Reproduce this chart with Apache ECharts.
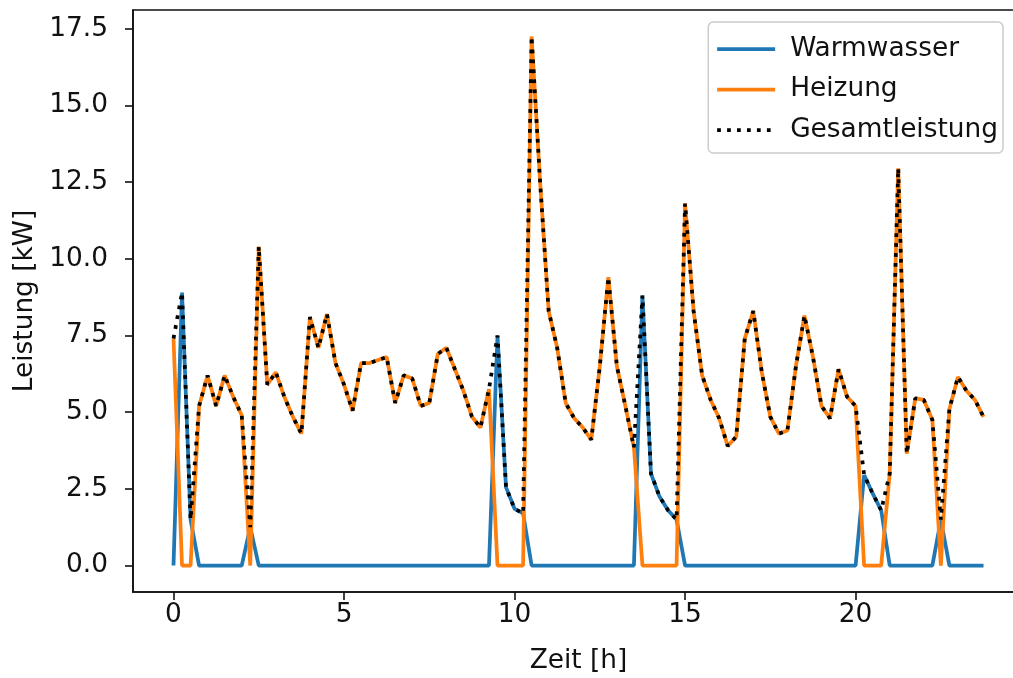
<!DOCTYPE html>
<html>
<head>
<meta charset="utf-8">
<script src="https://cdn.jsdelivr.net/npm/echarts@6/dist/echarts.min.js"></script>
<style>
html,body{margin:0;padding:0;background:#fff;}
#chart{width:1013px;height:678px;}
</style>
</head>
<body>
<div id="chart"></div>
<script>
// Zeitachse [h]
const hours = [
  0, 0.25, 0.5, 0.75, 1, 1.25, 1.5, 1.75, 2, 2.25, 2.5, 2.75,
  3, 3.25, 3.5, 3.75, 4, 4.25, 4.5, 4.75, 5, 5.25, 5.5, 5.75,
  6, 6.25, 6.5, 6.75, 7, 7.25, 7.5, 7.75, 8, 8.25, 8.5, 8.75,
  9, 9.25, 9.5, 9.75, 10, 10.25, 10.5, 10.75, 11, 11.25, 11.5, 11.75,
  12, 12.25, 12.5, 12.75, 13, 13.25, 13.5, 13.75, 14, 14.25, 14.5, 14.75,
  15, 15.25, 15.5, 15.75, 16, 16.25, 16.5, 16.75, 17, 17.25, 17.5, 17.75,
  18, 18.25, 18.5, 18.75, 19, 19.25, 19.5, 19.75, 20, 20.25, 20.5, 20.75,
  21, 21.25, 21.5, 21.75, 22, 22.25, 22.5, 22.75, 23, 23.25, 23.5, 23.75
];

// Warmwasser [kW]
const warmwasser = [
  0, 8.9, 1.5, 0, 0, 0, 0, 0, 0, 1.25, 0, 0,
  0, 0, 0, 0, 0, 0, 0, 0, 0, 0, 0, 0,
  0, 0, 0, 0, 0, 0, 0, 0, 0, 0, 0, 0,
  0, 0, 7.5, 2.55, 1.85, 1.7, 0, 0, 0, 0, 0, 0,
  0, 0, 0, 0, 0, 0, 0, 8.8, 3.0, 2.25, 1.8, 1.5,
  0, 0, 0, 0, 0, 0, 0, 0, 0, 0, 0, 0,
  0, 0, 0, 0, 0, 0, 0, 0, 0, 2.95, 2.35, 1.8,
  0, 0, 0, 0, 0, 0, 1.5, 0, 0, 0, 0, 0
];

// Heizung [kW]
const heizung = [
  7.4, 0, 0, 5.2, 6.2, 5.2, 6.2, 5.5, 4.9, 0, 10.4, 5.9,
  6.3, 5.5, 4.85, 4.3, 8.1, 7.1, 8.2, 6.6, 5.9, 5.05, 6.6, 6.6,
  6.7, 6.8, 5.3, 6.2, 6.1, 5.2, 5.3, 6.9, 7.1, 6.4, 5.7, 4.85,
  4.5, 5.75, 0, 0, 0, 0, 17.25, 12.5, 8.3, 7.1, 5.3, 4.8,
  4.5, 4.1, 6.5, 9.4, 6.5, 5.2, 3.85, 0, 0, 0, 0, 0,
  11.8, 8.3, 6.2, 5.4, 4.8, 3.9, 4.2, 7.4, 8.3, 6.3, 4.85, 4.3,
  4.4, 6.5, 8.15, 6.8, 5.2, 4.8, 6.4, 5.5, 5.2, 0, 0, 0,
  3.0, 12.95, 3.65, 5.45, 5.4, 4.75, 0, 5.1, 6.15, 5.7, 5.4, 4.85
];

// Gesamtleistung [kW]
const gesamt = [
  7.4, 8.9, 1.5, 5.2, 6.2, 5.2, 6.2, 5.5, 4.9, 1.25, 10.4, 5.9,
  6.3, 5.5, 4.85, 4.3, 8.1, 7.1, 8.2, 6.6, 5.9, 5.05, 6.6, 6.6,
  6.7, 6.8, 5.3, 6.2, 6.1, 5.2, 5.3, 6.9, 7.1, 6.4, 5.7, 4.85,
  4.5, 5.75, 7.5, 2.55, 1.85, 1.7, 17.25, 12.5, 8.3, 7.1, 5.3, 4.8,
  4.5, 4.1, 6.5, 9.4, 6.5, 5.2, 3.85, 8.8, 3.0, 2.25, 1.8, 1.5,
  11.8, 8.3, 6.2, 5.4, 4.8, 3.9, 4.2, 7.4, 8.3, 6.3, 4.85, 4.3,
  4.4, 6.5, 8.15, 6.8, 5.2, 4.8, 6.4, 5.5, 5.2, 2.95, 2.35, 1.8,
  3.0, 12.95, 3.65, 5.45, 5.4, 4.75, 1.5, 5.1, 6.15, 5.7, 5.4, 4.85
];

const xTicks = [0, 5, 10, 15, 20];
const yTicks = [0, 2.5, 5, 7.5, 10, 12.5, 15, 17.5];

const FONT = 'DejaVu Sans';
const FS = 26.4;
const TXT = '#111';
const LW = 3.75;

const pairs = arr => hours.map((h, i) => [h, arr[i]]);

const chart = echarts.init(document.getElementById('chart'), null, {renderer: 'canvas'});

chart.setOption({
  animation: false,
  backgroundColor: '#fff',
  textStyle: {fontFamily: FONT},
  grid: {
    left: 133, top: 10, width: 891, height: 582,
    outerBoundsMode: 'none',
    show: true, borderColor: '#111', borderWidth: 1.6, backgroundColor: 'transparent',
    containLabel: false
  },
  legend: {
    orient: 'vertical',
    right: 10, top: 22,
    padding: [14, 5, 10, 7],
    itemWidth: 58, itemHeight: 28, itemGap: 14.5,
    backgroundColor: 'rgba(255,255,255,0.8)',
    borderColor: '#cccccc', borderWidth: 1.5, borderRadius: 5,
    itemStyle: {opacity: 0},
    lineStyle: {width: LW},
    textStyle: {fontFamily: FONT, fontSize: FS, color: TXT, padding: [0, 0, 0, 10]},
    data: ['Warmwasser', 'Heizung', 'Gesamtleistung']
  },
  xAxis: {
    type: 'value',
    min: -1.1875, max: 24.9375,
    name: 'Zeit [h]', nameLocation: 'middle', nameGap: 56,
    nameTextStyle: {fontFamily: FONT, fontSize: FS, color: TXT},
    axisLine: {show: true, onZero: false, lineStyle: {color: '#111', width: 1.6}},
    axisTick: {show: true, length: 8, lineStyle: {color: '#111', width: 1.6}, customValues: xTicks},
    axisLabel: {fontFamily: FONT, fontSize: FS, color: TXT, margin: 10, customValues: xTicks,
      formatter: v => String(v)},
    splitLine: {show: false}
  },
  yAxis: {
    type: 'value',
    min: -0.8625, max: 18.1125,
    name: 'Leistung [kW]', nameLocation: 'middle', nameGap: 95, nameRotate: 90,
    nameTextStyle: {fontFamily: FONT, fontSize: FS, color: TXT},
    axisLine: {show: true, onZero: false, lineStyle: {color: '#111', width: 1.6}},
    axisTick: {show: true, length: 8, lineStyle: {color: '#111', width: 1.6}, customValues: yTicks},
    axisLabel: {fontFamily: FONT, fontSize: FS, color: TXT, margin: 25, customValues: yTicks,
      formatter: v => v.toFixed(1)},
    splitLine: {show: false}
  },
  series: [
    {
      name: 'Warmwasser', type: 'line', data: pairs(warmwasser),
      symbol: 'none', showSymbol: false,
      lineStyle: {color: '#1f77b4', width: LW}, itemStyle: {color: '#1f77b4'}
    },
    {
      name: 'Heizung', type: 'line', data: pairs(heizung),
      symbol: 'none', showSymbol: false,
      lineStyle: {color: '#ff7f0e', width: LW}, itemStyle: {color: '#ff7f0e'}
    },
    {
      name: 'Gesamtleistung', type: 'line', data: pairs(gesamt),
      symbol: 'none', showSymbol: false,
      lineStyle: {color: '#000', width: LW, type: [3.75, 6.2], cap: 'butt'}, itemStyle: {color: '#000'}
    }
  ]
});
</script>
</body>
</html>
